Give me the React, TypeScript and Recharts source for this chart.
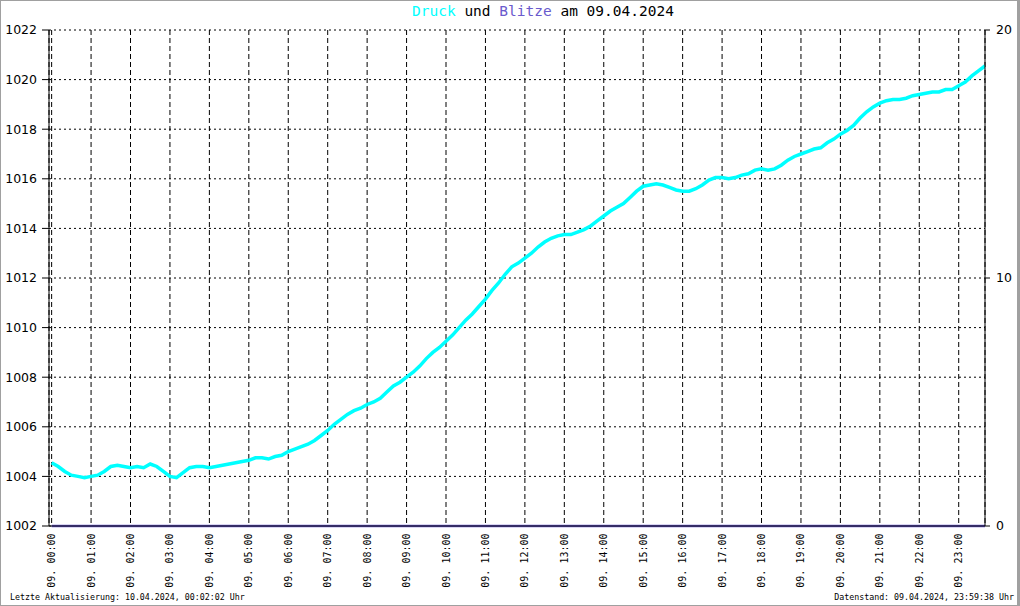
import { LineChart, Line, XAxis, YAxis, CartesianGrid } from 'recharts'

const druck = [
  1004.55, 1004.4, 1004.2, 1004.05, 1004.0, 1003.95,
  1004.0, 1004.05, 1004.2, 1004.4, 1004.45, 1004.4,
  1004.35, 1004.4, 1004.35, 1004.5, 1004.4, 1004.2,
  1004.0, 1003.95, 1004.15, 1004.35, 1004.4, 1004.4,
  1004.35, 1004.4, 1004.45, 1004.5, 1004.55, 1004.6,
  1004.65, 1004.75, 1004.75, 1004.7, 1004.8, 1004.85,
  1005.0, 1005.1, 1005.2, 1005.3, 1005.45, 1005.65,
  1005.85, 1006.1, 1006.3, 1006.5, 1006.65, 1006.75,
  1006.9, 1007.0, 1007.15, 1007.4, 1007.65, 1007.8,
  1008.0, 1008.2, 1008.45, 1008.75, 1009.0, 1009.2,
  1009.45, 1009.7, 1010.0, 1010.3, 1010.55, 1010.85,
  1011.15, 1011.5, 1011.8, 1012.15, 1012.45, 1012.6,
  1012.8, 1013.0, 1013.25, 1013.45, 1013.6, 1013.7,
  1013.75, 1013.75, 1013.85, 1013.95, 1014.1, 1014.3,
  1014.5, 1014.7, 1014.85, 1015.0, 1015.25, 1015.5,
  1015.7, 1015.75, 1015.8, 1015.75, 1015.65, 1015.55,
  1015.5, 1015.5, 1015.6, 1015.75, 1015.95, 1016.05,
  1016.05, 1016.0, 1016.05, 1016.15, 1016.2, 1016.35,
  1016.4, 1016.35, 1016.4, 1016.55, 1016.75, 1016.9,
  1017.0, 1017.1, 1017.2, 1017.25, 1017.45, 1017.6,
  1017.8, 1017.95, 1018.15, 1018.45, 1018.7, 1018.9,
  1019.05, 1019.15, 1019.2, 1019.2, 1019.25, 1019.35,
  1019.4, 1019.45, 1019.5, 1019.5, 1019.6, 1019.6,
  1019.75, 1019.9, 1020.15, 1020.35, 1020.55,
]

// Blitze pro Stunde (00:00 ... 23:00, Ende)
const blitze = [0, 0, 0, 0, 0, 0, 0, 0, 0, 0, 0, 0, 0, 0, 0, 0, 0, 0, 0, 0, 0, 0, 0, 0, 0]

const hourLabels = [
  '09. 00:00', '09. 01:00', '09. 02:00', '09. 03:00', '09. 04:00', '09. 05:00',
  '09. 06:00', '09. 07:00', '09. 08:00', '09. 09:00', '09. 10:00', '09. 11:00',
  '09. 12:00', '09. 13:00', '09. 14:00', '09. 15:00', '09. 16:00', '09. 17:00',
  '09. 18:00', '09. 19:00', '09. 20:00', '09. 21:00', '09. 22:00', '09. 23:00',
]
const hourTicks = hourLabels.map((_, i) => i * 60)
const druckTicks = [1002, 1004, 1006, 1008, 1010, 1012, 1014, 1016, 1018, 1020, 1022]
const blitzTicks = [0, 10, 20]

const lastT = (druck.length - 1) * 10
const data = druck.map((v, i) => {
  const t = i * 10
  let b: number | null = null
  if (t % 60 === 0) b = blitze[t / 60]
  if (t === lastT) b = blitze[blitze.length - 1]
  return { t, druck: v, blitze: b }
})

const mono = '"DejaVu Sans Mono", "Liberation Mono", monospace'
const sans = '"DejaVu Sans", "Liberation Sans", sans-serif'

function HourTick(props: any) {
  const { x, y, index } = props
  const px = x + 3.5
  const py = y + 7.5
  return (
    <text
      x={px}
      y={py}
      transform={`rotate(-90 ${px} ${py})`}
      textAnchor="end"
      fontFamily={mono}
      fontSize={10}
      fill="#000"
    >
      {hourLabels[index]}
    </text>
  )
}

export default function App() {
  return (
    <div style={{ position: 'absolute', left: 0, top: 0, width: 1020, height: 606, background: '#fff' }}>
      <LineChart
        width={1020}
        height={606}
        data={data}
        margin={{ top: 30, right: 0, bottom: 0, left: 0 }}
      >
        <CartesianGrid
          yAxisId="l"
          vertical={false}
          stroke="#000"
          strokeDasharray="2 3"
        />
        <CartesianGrid
          yAxisId="l"
          horizontal={false}
          stroke="#000"
          strokeDasharray="5 3"
        />
        <XAxis
          dataKey="t"
          type="number"
          domain={[-4, lastT]}
          ticks={hourTicks}
          interval={0}
          height={80}
          tickLine={false}
          tickSize={0}
          tickMargin={0}
          axisLine={{ stroke: '#000' }}
          tick={<HourTick />}
          allowDataOverflow
        />
        <YAxis
          yAxisId="l"
          orientation="left"
          domain={[1002, 1022]}
          ticks={druckTicks}
          interval={0}
          width={49}
          tickSize={7}
          tickMargin={5}
          axisLine={{ stroke: '#000' }}
          tickLine={{ stroke: '#000' }}
          tick={{ fill: '#000', fontFamily: sans, fontSize: 12.5 }}
        />
        <YAxis
          yAxisId="r"
          orientation="right"
          domain={[0, 20]}
          ticks={blitzTicks}
          interval={0}
          width={35}
          tickSize={5}
          tickMargin={6}
          axisLine={{ stroke: '#000' }}
          tickLine={{ stroke: '#000' }}
          tick={{ fill: '#000', fontFamily: sans, fontSize: 12.5, textAnchor: 'start' }}
        />
        <Line
          yAxisId="l"
          dataKey="druck"
          type="linear"
          stroke="#00ffff"
          strokeWidth={3.5}
          dot={false}
          isAnimationActive={false}
        />
        <Line
          yAxisId="r"
          dataKey="blitze"
          type="linear"
          connectNulls
          stroke="#6a5acd"
          strokeWidth={2.5}
          dot={false}
          isAnimationActive={false}
        />
      </LineChart>
      <div
        style={{
          position: 'absolute',
          left: 412,
          top: 4,
          fontFamily: mono,
          fontSize: 14.5,
          lineHeight: 1,
          whiteSpace: 'pre',
          color: '#000',
        }}
      >
        <span style={{ color: '#00ffff' }}>Druck</span> und{' '}
        <span style={{ color: '#6a5acd' }}>Blitze</span> am 09.04.2024
      </div>
      <div
        style={{
          position: 'absolute',
          left: 10,
          top: 593,
          fontFamily: mono,
          fontSize: 8.3,
          lineHeight: 1,
          whiteSpace: 'pre',
          color: '#000',
        }}
      >
        Letzte Aktualisierung: 10.04.2024, 00:02:02 Uhr
      </div>
      <div
        style={{
          position: 'absolute',
          right: 6,
          top: 593,
          fontFamily: mono,
          fontSize: 8.3,
          lineHeight: 1,
          whiteSpace: 'pre',
          color: '#000',
        }}
      >
        Datenstand: 09.04.2024, 23:59:38 Uhr
      </div>
      <div
        style={{
          position: 'absolute',
          left: 0,
          top: 0,
          width: 1020,
          height: 606,
          boxSizing: 'border-box',
          border: '1px solid #a0a0a0',
          borderRightWidth: 3,
          pointerEvents: 'none',
        }}
      />
    </div>
  )
}
